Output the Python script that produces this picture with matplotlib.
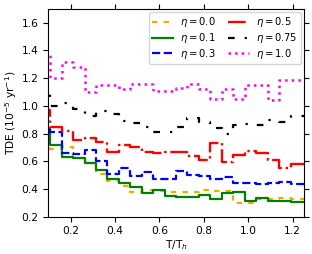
import numpy as np
import matplotlib
matplotlib.use("Agg")
import matplotlib.pyplot as plt

# bin edges in T/T_h
t_edges = [0.057, 0.108, 0.160, 0.211, 0.263, 0.314, 0.366, 0.417, 0.469, 0.520,
           0.572, 0.623, 0.675, 0.726, 0.778, 0.829, 0.881, 0.932, 0.984, 1.035,
           1.087, 1.138, 1.190, 1.241, 1.292]

tde_eta_00 = [0.70, 0.69, 0.70, 0.62, 0.59, 0.51, 0.46, 0.42, 0.38, 0.39, 0.385, 0.38,
              0.38, 0.38, 0.39, 0.385, 0.385, 0.30, 0.30, 0.33, 0.33, 0.335, 0.33, 0.33]
tde_eta_01 = [0.84, 0.72, 0.632, 0.62, 0.585, 0.54, 0.47, 0.44, 0.415, 0.37, 0.39, 0.35,
              0.345, 0.34, 0.355, 0.325, 0.373, 0.38, 0.313, 0.332, 0.313, 0.31, 0.303, 0.303]
tde_eta_03 = [0.84, 0.81, 0.656, 0.65, 0.68, 0.60, 0.51, 0.55, 0.49, 0.52, 0.47, 0.47,
              0.53, 0.50, 0.49, 0.47, 0.488, 0.44, 0.44, 0.433, 0.44, 0.452, 0.435, 0.435]
tde_eta_05 = [0.97, 0.85, 0.815, 0.755, 0.765, 0.74, 0.67, 0.715, 0.70, 0.665, 0.66, 0.67,
              0.67, 0.64, 0.61, 0.73, 0.596, 0.644, 0.675, 0.656, 0.61, 0.55, 0.58, 0.58]
tde_eta_075 = [1.12, 1.00, 1.02, 0.98, 0.93, 0.96, 0.94, 0.89, 0.875, 0.85, 0.81, 0.81,
               0.85, 0.91, 0.88, 0.84, 0.80, 0.86, 0.87, 0.86, 0.90, 0.88, 0.93, 0.93]
tde_eta_10 = [1.38, 1.20, 1.315, 1.28, 1.10, 1.15, 1.15, 1.125, 1.16, 1.16, 1.11, 1.11,
              1.13, 1.155, 1.12, 1.05, 1.125, 1.05, 1.15, 1.15, 1.04, 1.19, 1.19, 1.19]

labels = [r"$\eta=0.0$", r"$\eta=0.1$", r"$\eta=0.3$",
          r"$\eta=0.5$", r"$\eta=0.75$", r"$\eta=1.0$"]

series = [tde_eta_00, tde_eta_01, tde_eta_03, tde_eta_05, tde_eta_075, tde_eta_10]
colors = ["orange", "green", "blue", "red", "black", "magenta"]
styles = [(0, (2.4, 2.8)), "-", "--", (0, (7.5, 1.6, 1, 1.6)), (0, (3, 4.5, 1, 4.5)), ":"]
widths = [1.6, 1.6, 1.6, 1.7, 1.6, 1.8]

plt.rcParams["font.size"] = 7.7
fig = plt.figure(figsize=(3.12, 2.54), dpi=100)
ax = fig.add_axes([0.155, 0.147, 0.819, 0.818])

edges = np.array(t_edges)
for vals, c, ls, lw, lab in zip(series, colors, styles, widths, labels):
    v = np.array(vals)
    ax.step(edges, np.append(v, v[-1]), where="post", color=c, ls=ls, lw=lw, label=lab)

ax.set_xlim(0.1, 1.25)
ax.set_ylim(0.2, 1.7)
ax.set_xticks([0.2, 0.4, 0.6, 0.8, 1.0, 1.2])
ax.set_yticks([0.2, 0.4, 0.6, 0.8, 1.0, 1.2, 1.4, 1.6])
ax.tick_params(top=True, right=True, labelsize=7.7)
ax.set_xlabel(r"T/T$_h$", fontsize=7.7, labelpad=1)
ax.set_ylabel(r"TDE (10$^{-5}$ yr$^{-1}$)", fontsize=7.7, labelpad=2)
ax.legend(ncol=2, loc="upper right", fontsize=7.2, columnspacing=1.2,
          handlelength=2.1, handletextpad=0.7, borderpad=0.35, labelspacing=0.18,
          borderaxespad=0.3)

fig.savefig("out.png", dpi=100)
